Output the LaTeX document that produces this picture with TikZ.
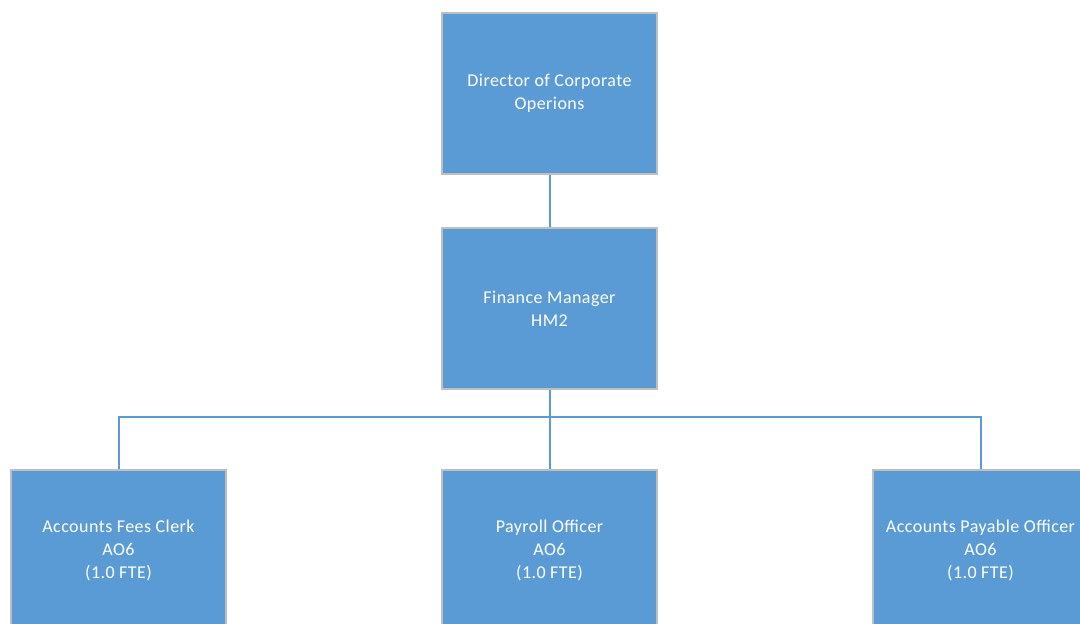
\documentclass[tikz,border=0pt]{standalone}
\usepackage{fontspec}
\setmainfont{Carlito}[LetterSpace=2.5]
\usetikzlibrary{calc}
\definecolor{boxblue}{HTML}{5B9BD5}
\definecolor{boxedge}{HTML}{BFBFBF}
\begin{document}
\begin{tikzpicture}[x=1pt,y=1pt,
  role/.style={rectangle, fill=boxblue, draw=boxedge, line width=1.5pt,
    minimum width=215pt, minimum height=161pt, inner sep=0pt,
    text=white, align=center,
    font=\fontsize{18}{22.7}\selectfont},
  conn/.style={draw=boxblue, line width=2pt}]
\useasboundingbox (0,0) rectangle (1080,624);
\clip (0,0) rectangle (1080,624);
\node[role] (dir) at (549.5,530.5) {Director of Corporate\\Operions};
\node[role] (fm) at (549.5,315.5) {Finance Manager\\HM2};
\node[role] (clerk) at (118.5,73.5) {Accounts Fees Clerk\\AO6\\(1.0 FTE)};
\node[role] (pay) at (549.5,73.5) {Payroll Officer\\AO6\\(1.0 FTE)};
\node[role] (apo) at (980.5,73.5) {Accounts Payable Officer\\AO6\\(1.0 FTE)};
\coordinate (bus) at ($(fm.south)+(0,-27)$);
\draw[conn] (dir.south) -- (fm.north);
\draw[conn] (fm.south) -- (pay.north);
\draw[conn] (clerk.north) -- (clerk.north |- bus) -- (apo.north |- bus) -- (apo.north);
\end{tikzpicture}
\end{document}
